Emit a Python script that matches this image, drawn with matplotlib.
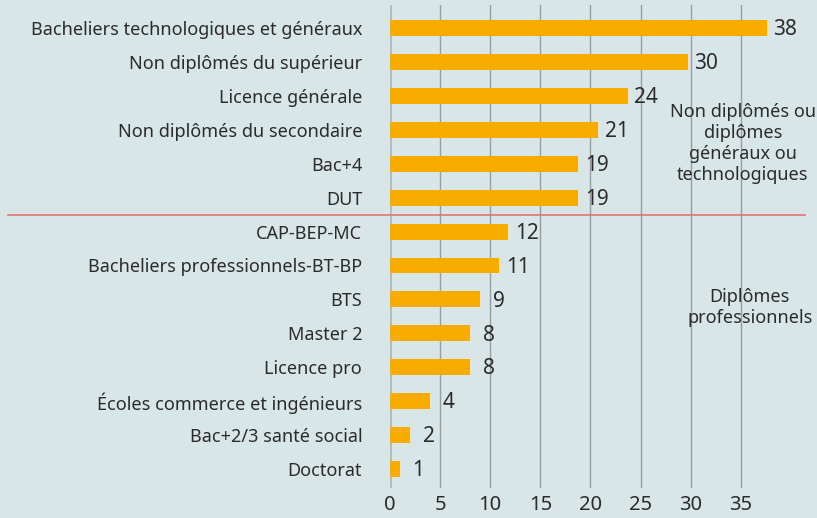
import numpy as np
import matplotlib.pyplot as plt

categories = [
    "Bacheliers technologiques et généraux",
    "Non diplômés du supérieur",
    "Licence générale",
    "Non diplômés du secondaire",
    "Bac+4",
    "DUT",
    "CAP-BEP-MC",
    "Bacheliers professionnels-BT-BP",
    "BTS",
    "Master 2",
    "Licence pro",
    "Écoles commerce et ingénieurs",
    "Bac+2/3 santé social",
    "Doctorat",
]
values = [37.6, 29.7, 23.7, 20.8, 18.8, 18.8, 11.8, 10.9, 9.0, 8.0, 8.0, 4.0, 2.0, 1.0]
xticks = [0, 5, 10, 15, 20, 25, 30, 35]

bg = "#d9e6e8"
bar_color = "#f9ac00"
text_color = "#2b2b2b"

plt.rcParams['font.family'] = ['Noto Sans', 'DejaVu Sans']

fig = plt.figure(figsize=(8.17, 5.18), dpi=100, facecolor=bg)
ax = fig.add_axes([390 / 817, 30 / 518, 1 - 390 / 817, 483 / 518])
ax.set_facecolor(bg)

y = np.arange(len(categories))
ax.barh(y, values, height=0.47, color=bar_color, zorder=3)

for yi, v in zip(y, values):
    ax.text(v + 1.85, yi + 0.05, str(int(round(v))), va="center", ha="center",
            fontsize=15, color=text_color, zorder=4)

ax.set_xlim(0, 42.6)
ax.set_ylim(13.56, -0.68)
ax.set_yticks(y)
ax.set_yticklabels(categories, fontsize=13, color=text_color)
ax.set_xticks(xticks)
ax.set_xticklabels([str(t) for t in xticks], fontsize=14.5, color=text_color)
ax.tick_params(axis="both", length=0)
ax.tick_params(axis="y", pad=20)
ax.tick_params(axis="x", pad=5)

for t in xticks:
    if t == 0:
        ax.axvline(t, color="#b5b9ba", lw=2, zorder=2)
    else:
        ax.axvline(t, color="#9a9d9e", lw=1, zorder=2)

for s in ax.spines.values():
    s.set_visible(False)

# separator between the two groups
ax.plot([-38.1, 41.4], [5.5, 5.5], color="#e57373", lw=1.2,
        clip_on=False, zorder=5)

ax.text(35.2, 3.4, "Non diplômés ou\ndiplômes\ngénéraux ou\ntechnologiques",
        ha="center", va="center", fontsize=13, color=text_color,
        linespacing=1.2, zorder=4)
ax.text(35.9, 8.23, "Diplômes\nprofessionnels", ha="center", va="center",
        fontsize=13, color=text_color, linespacing=1.2, zorder=4)

fig.savefig("out.png", dpi=100, facecolor=bg)
